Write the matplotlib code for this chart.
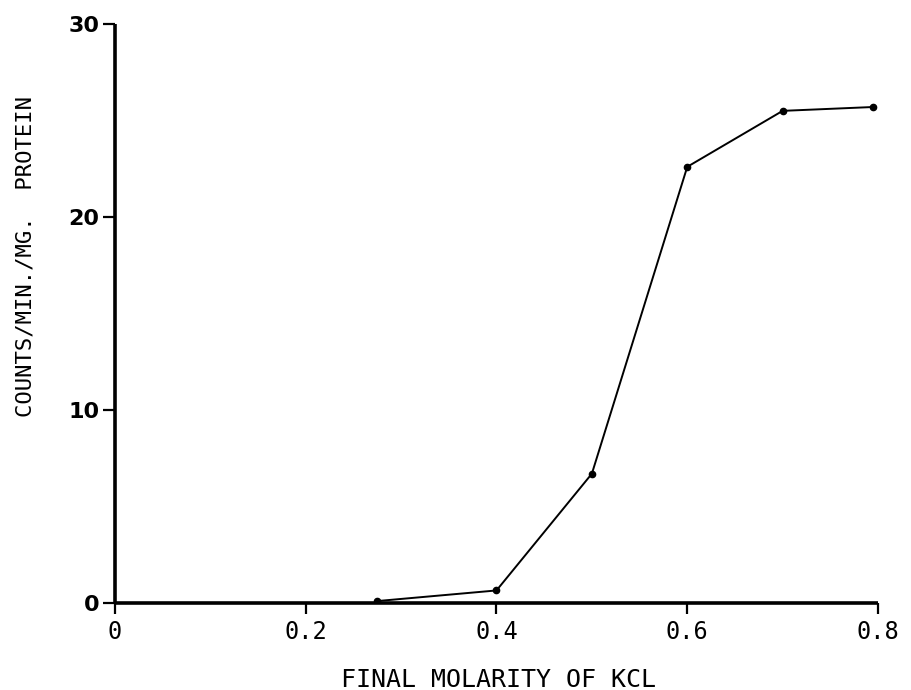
import matplotlib.pyplot as plt

# KCl elution curve
molarity = [0.275, 0.40, 0.50, 0.60, 0.70, 0.795]
counts = [0.1, 0.65, 6.7, 22.6, 25.5, 25.7]

x_ticks = [0, 0.2, 0.4, 0.6, 0.8]
x_tick_labels = ['0', '0.2', '0.4', '0.6', '0.8']
y_ticks = [0, 10, 20, 30]

fig = plt.figure(figsize=(9.11, 6.9), dpi=100)
ax = fig.add_axes([0.1262, 0.1261, 0.8376, 0.8391])

ax.plot(molarity, counts, '-o', color='black', linewidth=1.4,
        markersize=4.5)

ax.set_xlim(0, 0.8)
ax.set_ylim(0, 30)

# only the left and bottom axes are drawn
for side in ['top', 'right']:
    ax.spines[side].set_visible(False)
for side in ['left', 'bottom']:
    ax.spines[side].set_linewidth(2.6)
    ax.spines[side].set_capstyle('butt')

ax.set_xticks(x_ticks)
ax.set_xticklabels(x_tick_labels, family='DejaVu Sans Mono', fontsize=17)
ax.set_yticks(y_ticks)
ax.set_yticklabels([str(v) for v in y_ticks], family='DejaVu Sans',
                   fontweight='bold', fontsize=16)
ax.tick_params(axis='x', direction='out', length=8, width=1.6, pad=4)
ax.tick_params(axis='y', direction='out', length=9, width=1.6, pad=2)

ax.set_xlabel('FINAL MOLARITY OF KCL', family='DejaVu Sans Mono',
              fontsize=18)
ax.xaxis.set_label_coords(0.502, -0.112)
ax.set_ylabel('COUNTS/MIN./MG.  PROTEIN', family='DejaVu Sans Mono',
              fontsize=16)
ax.yaxis.set_label_coords(-0.104, 0.598)

fig.savefig('out.png', dpi=100)
